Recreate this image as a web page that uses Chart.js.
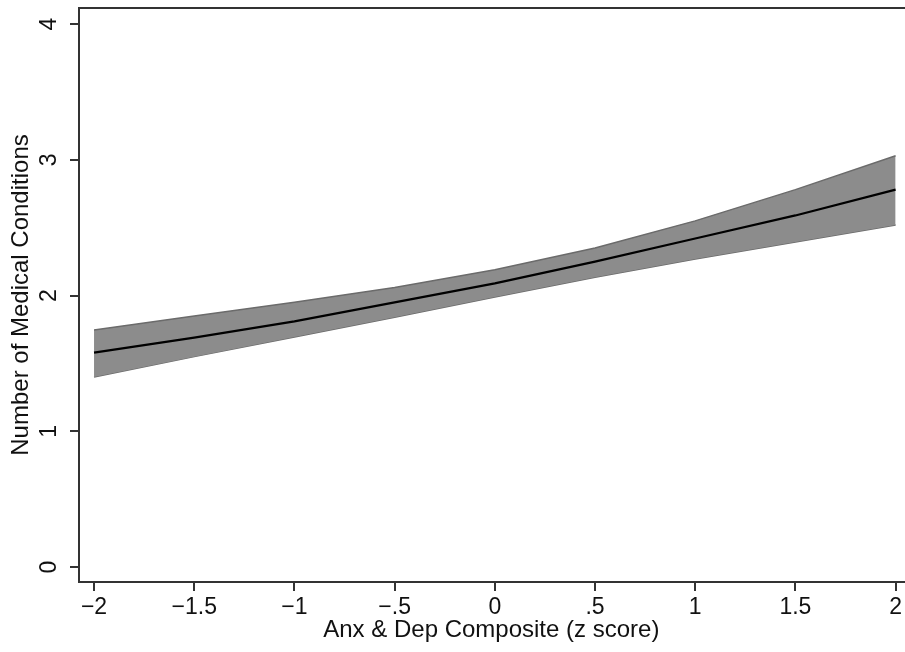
<!DOCTYPE html>
<html>
<head>
<meta charset="utf-8">
<script src="https://cdn.jsdelivr.net/npm/chart.js@4"></script>
<style>
  html, body { margin: 0; padding: 0; background: #fff; }
  #wrap { width: 905px; height: 652px; }
</style>
</head>
<body>
<div id="wrap"><canvas id="chart" width="905" height="652"></canvas></div>
<script>
// valores
var zScores = [-2, -1.5, -1, -0.5, 0, 0.5, 1, 1.5, 2];
var predito = [1.58, 1.69, 1.81, 1.95, 2.09, 2.25, 2.42, 2.59, 2.78];
var limiteSup = [1.746, 1.85, 1.95, 2.06, 2.19, 2.35, 2.55, 2.78, 3.03];
var limiteInf = [1.40, 1.55, 1.695, 1.84, 1.99, 2.135, 2.27, 2.395, 2.52];
var xTicks = [-2, -1.5, -1, -0.5, 0, 0.5, 1, 1.5, 2];
var xTickLabels = ['\u22122', '\u22121.5', '\u22121', '\u2212.5', '0', '.5', '1', '1.5', '2'];
var yTicks = [0, 1, 2, 3, 4];
var yTickLabels = ['0', '1', '2', '3', '4'];

function pontos(vals) {
  return zScores.map(function (z, i) { return { x: z, y: vals[i] }; });
}

var fonte = 'Liberation Sans, Arial, Helvetica, sans-serif';

// desenha borda de cima e rótulos do eixo y girados
var extras = {
  id: 'extras',
  afterDraw: function (chart) {
    var ctx = chart.ctx;
    var area = chart.chartArea;
    var y = chart.scales.y;
    ctx.save();
    ctx.strokeStyle = '#333';
    ctx.lineWidth = 2;
    ctx.beginPath();
    ctx.moveTo(area.left - 1, area.top);
    ctx.lineTo(area.right + 2, area.top);
    ctx.stroke();

    ctx.fillStyle = '#111';
    ctx.font = '23px ' + fonte;
    ctx.textAlign = 'center';
    ctx.textBaseline = 'middle';
    yTicks.forEach(function (v, i) {
      var py = y.getPixelForValue(v);
      ctx.save();
      ctx.translate(50, py);
      ctx.rotate(-Math.PI / 2);
      ctx.fillText(yTickLabels[i], 0, 0);
      ctx.restore();
    });
    ctx.restore();
  }
};

var ctx = document.getElementById('chart').getContext('2d');
window.grafico = new Chart(ctx, {
  type: 'line',
  data: {
    datasets: [
      {
        label: 'Predito',
        data: pontos(predito),
        borderColor: '#000',
        borderWidth: 2.2,
        pointRadius: 0,
        fill: false,
        order: 0
      },
      {
        label: 'IC superior',
        data: pontos(limiteSup),
        borderColor: '#6b6b6b',
        borderWidth: 1.5,
        backgroundColor: '#8c8c8c',
        pointRadius: 0,
        fill: '+1',
        order: 1
      },
      {
        label: 'IC inferior',
        data: pontos(limiteInf),
        borderColor: '#6b6b6b',
        borderWidth: 1.5,
        pointRadius: 0,
        fill: false,
        order: 2
      }
    ]
  },
  options: {
    responsive: false,
    animation: false,
    events: [],
    layout: { padding: { top: 8, right: 0, left: 0, bottom: 0 } },
    plugins: {
      legend: { display: false },
      tooltip: { enabled: false }
    },
    scales: {
      x: {
        type: 'linear',
        min: -2.075,
        max: 2.04,
        afterFit: function (s) { s.height = 70; },
        afterBuildTicks: function (s) {
          s.ticks = xTicks.map(function (v) { return { value: v }; });
        },
        ticks: {
          color: '#111',
          font: { size: 23, family: fonte },
          padding: 3,
          maxRotation: 0,
          autoSkip: false,
          callback: function (v) {
            var i = xTicks.indexOf(v);
            return i >= 0 ? xTickLabels[i] : '';
          }
        },
        grid: { drawOnChartArea: false, drawTicks: true, tickLength: 9, color: '#333', lineWidth: 2 },
        border: { display: true, color: '#333', width: 2 },
        title: {
          display: true,
          text: 'Anx & Dep Composite (z score)',
          color: '#111',
          font: { size: 24, family: fonte },
          padding: { top: 0, bottom: 7 }
        }
      },
      y: {
        type: 'linear',
        min: -0.11,
        max: 4.118,
        afterFit: function (s) { s.width = 79; },
        afterBuildTicks: function (s) {
          s.ticks = yTicks.map(function (v) { return { value: v }; });
        },
        ticks: { display: false },
        grid: { drawOnChartArea: false, drawTicks: true, tickLength: 9, color: '#333', lineWidth: 2 },
        border: { display: true, color: '#333', width: 2 },
        title: {
          display: true,
          text: 'Number of Medical Conditions',
          color: '#111',
          font: { size: 24, family: fonte },
          padding: { top: 7, bottom: 0 }
        }
      }
    }
  },
  plugins: [extras]
});
</script>
</body>
</html>
